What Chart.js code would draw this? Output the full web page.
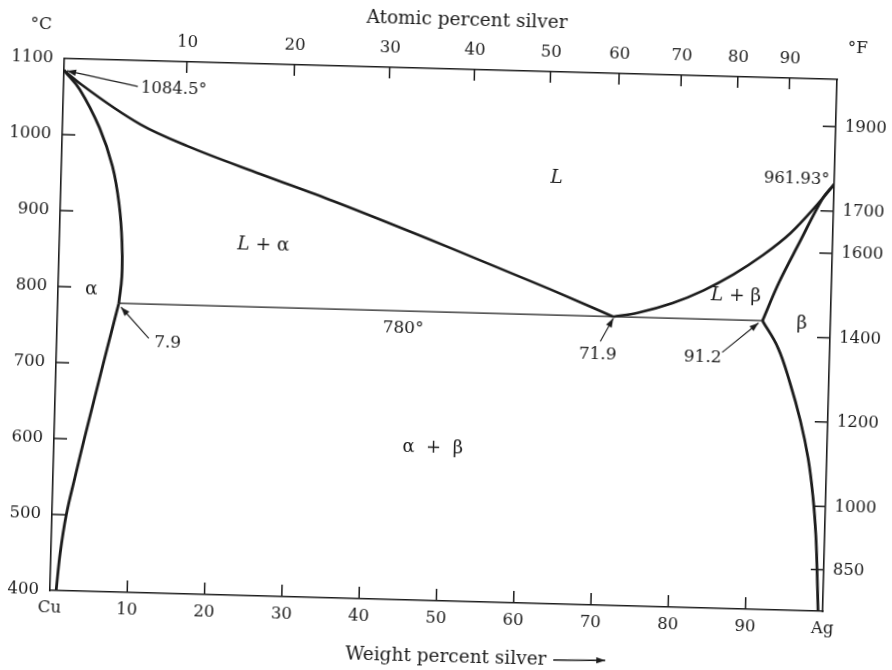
<!DOCTYPE html>
<html><head><meta charset="utf-8">
<script src="https://cdn.jsdelivr.net/npm/chart.js@4.4.1/dist/chart.umd.min.js"></script>
<style>
html,body{margin:0;padding:0;background:#fff;overflow:hidden;width:892px;height:670px}
#wrap{position:absolute;left:0;top:0;width:892px;height:670px;transform:rotate(1.55deg);transform-origin:446px 335px}
canvas{display:block}
</style></head><body>
<div id="wrap"><canvas id="c" width="892" height="670"></canvas></div>
<script>
// ---- axis tick labels ----
const weightTicks = [0,10,20,30,40,50,60,70,80,90,100];
const atomicTicks = [10,20,30,40,50,60,70,80,90];
const celsiusTicks = [400,500,600,700,800,900,1000,1100];
const fahrenheitTicks = [850,1000,1200,1400,1600,1700,1900];
const M_AG = 107.87, M_CU = 63.55;
const atomicToWeight = a => 100*a*M_AG/(a*M_AG + (100-a)*M_CU);
const cToF = c => c*9/5 + 32;

// ---- phase boundaries (weight % Ag, °C) ----
const liquidusAlphaWt = [0, 2.3, 10.1, 16.3, 25.8, 35.3, 50.5, 63.6, 71.9];
const liquidusAlphaC  = [1084.5, 1066.5, 1016, 989, 955, 922, 865, 814, 780];
const liquidusBetaWt  = [71.9, 75.0, 79.5, 83.5, 87.3, 91.0, 94.5, 97.5, 100];
const liquidusBetaC   = [780, 786, 800, 818, 840, 866, 896, 930, 961.93];
const solidusAlphaWt  = [0, 2.1, 4.8, 6.6, 7.6, 8.1, 8.2, 7.9];
const solidusAlphaC   = [1084.5, 1060, 1010, 960, 910, 860, 815, 780];
const solvusAlphaWt   = [7.9, 7.0, 6.1, 5.0, 3.9, 2.85, 1.85, 1.2, 0.8];
const solvusAlphaC    = [780, 740, 700, 650, 600, 550, 500, 450, 400];
const solidusBetaWt   = [100, 98.5, 95.7, 93.2, 91.2];
const solidusBetaC    = [961.93, 942, 884, 831, 780];
const solvusBetaWt    = [91.2, 93.3, 94.95, 96.45, 97.6, 98.35, 98.85, 99.15, 99.4];
const solvusBetaC     = [780, 745, 700, 650, 600, 550, 500, 450, 400];
const eutecticWt      = [7.9, 91.2];
const eutecticC       = [780, 780];

const INK = '#1c1c1c';
const FONT = '"DejaVu Serif", "Liberation Serif", serif';
const TICK_FONT = {family: FONT, size: 16.5};

const pts = (xs, ys) => xs.map((x, i) => ({x, y: ys[i]}));
const curve = (label, xs, ys, w, mode) => ({
  label, data: pts(xs, ys), borderColor: INK, borderWidth: w,
  cubicInterpolationMode: mode === 'mono' ? 'monotone' : 'default',
  tension: mode === 'mono' ? 0 : mode,
  pointRadius: 0, fill: false, xAxisID: 'x', yAxisID: 'y'
});

function drawRich(ctx, parts, x, y, size, align) {
  const fonts = parts.map(p => (p.i ? 'italic ' : '') + size + 'px ' + FONT);
  let total = 0;
  const widths = parts.map((p, k) => { ctx.font = fonts[k]; const w = ctx.measureText(p.t).width; total += w; return w; });
  let cx = align === 'left' ? x : align === 'right' ? x - total : x - total / 2;
  ctx.textAlign = 'left'; ctx.textBaseline = 'middle';
  parts.forEach((p, k) => { ctx.font = fonts[k]; ctx.fillText(p.t, cx, y); cx += widths[k]; });
}
function arrow(ctx, x1, y1, x2, y2) {
  ctx.beginPath(); ctx.moveTo(x1, y1); ctx.lineTo(x2, y2); ctx.stroke();
  const ang = Math.atan2(y2 - y1, x2 - x1), L = 9, W = 3.2;
  ctx.beginPath();
  ctx.moveTo(x2, y2);
  ctx.lineTo(x2 - L*Math.cos(ang) + W*Math.sin(ang), y2 - L*Math.sin(ang) - W*Math.cos(ang));
  ctx.lineTo(x2 - L*Math.cos(ang) - W*Math.sin(ang), y2 - L*Math.sin(ang) + W*Math.cos(ang));
  ctx.closePath(); ctx.fill();
}

const textNotes = [
  {parts: [{t: '1084.5°'}], x: 10.0, y: 1063, align: 'left', size: 16.5},
  {parts: [{t: '961.93°'}], x: 99.4, y: 967, align: 'right', size: 16.5},
  {parts: [{t: '7.9'}], x: 12.6, y: 729, align: 'left', size: 17},
  {parts: [{t: '780°'}], x: 42.1, y: 757, align: 'left', size: 17},
  {parts: [{t: '71.9'}], x: 70.0, y: 729, align: 'center', size: 17},
  {parts: [{t: '91.2'}], x: 83.6, y: 729, align: 'center', size: 17},
  {parts: [{t: 'L', i: true}], x: 64.1, y: 960, align: 'center', size: 18.5},
  {parts: [{t: 'L', i: true}, {t: ' + α'}], x: 26.4, y: 861, align: 'center', size: 18.5},
  {parts: [{t: 'α'}], x: 4.3, y: 797, align: 'center', size: 18.5},
  {parts: [{t: 'L', i: true}, {t: ' + β'}], x: 87.7, y: 811, align: 'center', size: 18.5},
  {parts: [{t: 'β'}], x: 96.3, y: 777, align: 'center', size: 18.5},
  {parts: [{t: 'α  +  β'}], x: 49.0, y: 601, align: 'center', size: 18}
];
const arrowNotes = [
  {from: [9.6, 1066], to: [0.4, 1084]},
  {from: [11.9, 735], to: [8.2, 775]},
  {from: [70.3, 747], to: [71.9, 778]},
  {from: [86.1, 737], to: [90.7, 777]}
];

const decor = {
  id: 'decor',
  afterDraw(chart) {
    const {ctx, chartArea: a, scales} = chart;
    const X = v => scales.x.getPixelForValue(v), Y = v => scales.y.getPixelForValue(v);
    ctx.save();
    ctx.strokeStyle = INK; ctx.fillStyle = INK; ctx.lineWidth = 1.5;
    ctx.beginPath();
    weightTicks.slice(1, -1).forEach(v => { const p = X(v); ctx.moveTo(p, a.bottom); ctx.lineTo(p, a.bottom - 12); });
    scales.xTop.ticks.forEach(t => { const p = scales.xTop.getPixelForValue(t.value); ctx.moveTo(p, a.top); ctx.lineTo(p, a.top + 11); });
    celsiusTicks.slice(1, -1).forEach(v => { const p = Y(v); ctx.moveTo(a.left, p); ctx.lineTo(a.left + 13, p); });
    fahrenheitTicks.forEach(v => { const p = scales.yF.getPixelForValue(v); ctx.moveTo(a.right, p); ctx.lineTo(a.right - 13, p); });
    ctx.stroke();

    ctx.lineWidth = 1.1;
    arrowNotes.forEach(n => arrow(ctx, X(n.from[0]), Y(n.from[1]), X(n.to[0]), Y(n.to[1])));
    textNotes.forEach(n => drawRich(ctx, n.parts, X(n.x), Y(n.y), n.size, n.align));

    // axis titles and unit marks
    drawRich(ctx, [{t: 'Atomic percent silver'}], (a.left + a.right) / 2 + 15, a.top - 49, 18.5, 'center');
    drawRich(ctx, [{t: '°C'}], a.left - 24, a.top - 33, 17, 'center');
    drawRich(ctx, [{t: '°F'}], a.right + 20, a.top - 31, 17, 'center');
    drawRich(ctx, [{t: 'Weight percent silver'}], a.left + 297, a.bottom + 56, 18.5, 'left');
    ctx.lineWidth = 1.3;
    arrow(ctx, a.left + 505, a.bottom + 56, a.left + 557, a.bottom + 55);
    ctx.restore();
  }
};

new Chart(document.getElementById('c'), {
  type: 'line',
  data: {
    datasets: [
      curve('Liquidus (α side)', liquidusAlphaWt, liquidusAlphaC, 2.6, 'mono'),
      curve('Liquidus (β side)', liquidusBetaWt, liquidusBetaC, 2.6, 'mono'),
      curve('Solidus α', solidusAlphaWt, solidusAlphaC, 2.8, 0.4),
      curve('Solvus α', solvusAlphaWt, solvusAlphaC, 2.8, 0.4),
      curve('Solidus β', solidusBetaWt, solidusBetaC, 2.8, 0.35),
      curve('Solvus β', solvusBetaWt, solvusBetaC, 2.8, 0.4),
      curve('Eutectic 780°', eutecticWt, eutecticC, 1.2, 0)
    ]
  },
  options: {
    responsive: false, animation: false, devicePixelRatio: 1,
    layout: {padding: 0},
    plugins: {legend: {display: false}, tooltip: {enabled: false}},
    elements: {point: {radius: 0}},
    scales: {
      x: {
        type: 'linear', position: 'bottom', min: 0, max: 100,
        afterBuildTicks: s => { s.ticks = weightTicks.map(v => ({value: v})); },
        ticks: {callback: v => v === 0 ? 'Cu' : v === 100 ? 'Ag' : String(v), font: TICK_FONT, color: INK, padding: 8, maxRotation: 0, autoSkip: false},
        grid: {display: false, drawTicks: false},
        border: {display: true, color: INK, width: 1.6},
        afterFit: s => { s.height = 69; }
      },
      xTop: {
        type: 'linear', position: 'top', min: 0, max: 100,
        afterBuildTicks: s => { s.ticks = atomicTicks.map(v => ({value: atomicToWeight(v)})); },
        ticks: {callback: (v, i) => String(atomicTicks[i]), font: TICK_FONT, color: INK, padding: 9, maxRotation: 0, autoSkip: false},
        grid: {display: false, drawTicks: false},
        border: {display: true, color: INK, width: 1.6},
        afterFit: s => { s.height = 69; }
      },
      y: {
        type: 'linear', position: 'left', min: 400, max: 1100,
        afterBuildTicks: s => { s.ticks = celsiusTicks.map(v => ({value: v})); },
        ticks: {callback: v => String(v), font: TICK_FONT, color: INK, padding: 11, autoSkip: false},
        grid: {display: false, drawTicks: false},
        border: {display: true, color: INK, width: 1.6},
        afterFit: s => { s.width = 57; }
      },
      yF: {
        type: 'linear', position: 'right', min: cToF(400), max: cToF(1100),
        afterBuildTicks: s => { s.ticks = fahrenheitTicks.map(v => ({value: v})); },
        ticks: {callback: v => String(v), font: TICK_FONT, color: INK, padding: 9, autoSkip: false},
        grid: {display: false, drawTicks: false},
        border: {display: true, color: INK, width: 1.6},
        afterFit: s => { s.width = 62; }
      }
    }
  },
  plugins: [decor]
});
</script></body></html>
